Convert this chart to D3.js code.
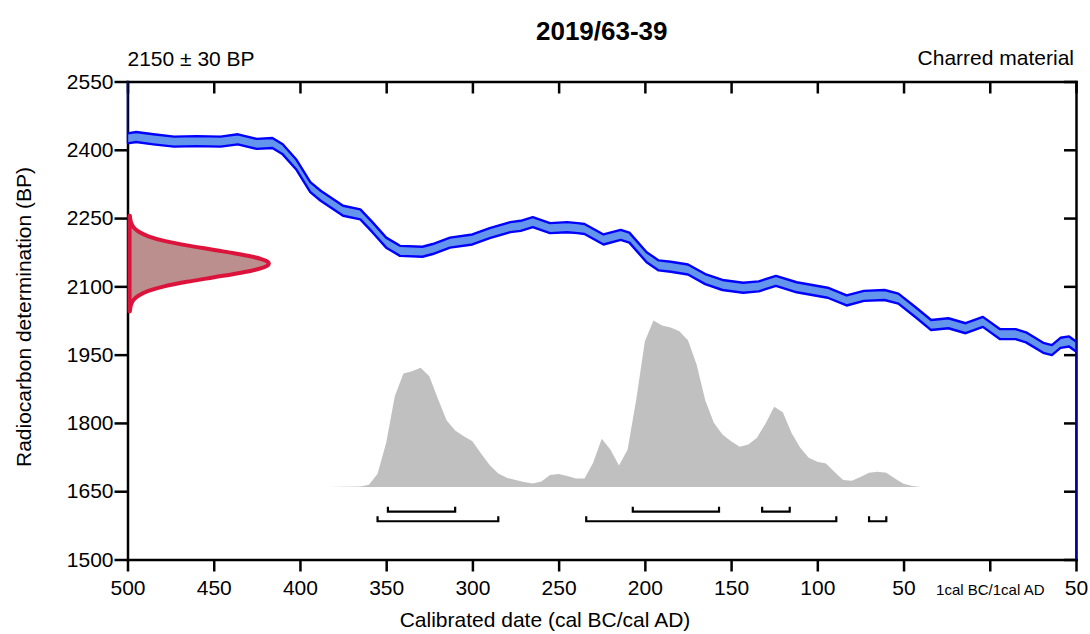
<!DOCTYPE html>
<html>
<head>
<meta charset="utf-8">
<script src="https://cdn.jsdelivr.net/npm/d3@7"></script>
<style>
  body { margin: 0; background: #fff; }
  text { font-family: "Liberation Sans", Arial, sans-serif; }
</style>
</head>
<body>
<div id="root"></div>
<script>
// chart data (years: negative = BC)
var xTicks = [-500, -450, -400, -350, -300, -250, -200, -150, -100, -50, 0, 50]
var yTicks = [1500, 1650, 1800, 1950, 2100, 2250, 2400, 2550]

// calibration curve, mean and 1 sigma
var curveYears = [-500, -495, -485, -473, -460, -446, -436, -425, -416, -410,
  -402, -394, -388, -375, -365, -358, -350, -342, -329, -323,
  -313, -300, -290, -278, -272, -265, -255, -245, -239, -235,
  -224, -214, -209, -199, -192, -185, -175, -165, -155, -143,
  -134, -124, -112, -94, -83, -73, -61, -53, -43, -34,
  -24, -14, -4, 6, 15, 21, 31, 36, 41, 46, 50]
var curveBP = [2425, 2428, 2423, 2418, 2419, 2418, 2423, 2413, 2415, 2401,
  2367, 2318, 2299, 2266, 2258, 2230, 2196, 2178, 2176, 2182,
  2196, 2203, 2217, 2230, 2233, 2241, 2228, 2230, 2228, 2226,
  2203, 2213, 2207, 2164, 2146, 2143, 2137, 2116, 2103, 2097,
  2100, 2112, 2098, 2086, 2069, 2079, 2081, 2073, 2043, 2015,
  2019, 2008, 2022, 1995, 1995, 1988, 1965, 1960, 1976, 1979, 1968]
var curveSigma = 11

// radiocarbon measurement 2150 +/- 30 BP
var measBP = [2255, 2250, 2240, 2230, 2220, 2210, 2200, 2190, 2180, 2170, 2165, 2160, 2155, 2150,
  2145, 2140, 2135, 2130, 2120, 2110, 2100, 2090, 2080, 2070, 2060, 2050, 2045]
var measDens = [0.002, 0.004, 0.011, 0.028, 0.066, 0.135, 0.249, 0.411, 0.607, 0.801, 0.882, 0.946, 0.986, 1,
  0.986, 0.946, 0.882, 0.801, 0.607, 0.411, 0.249, 0.135, 0.066, 0.028, 0.011, 0.004, 0.002]

// calibrated probability distribution
var probYears = [-385, -365, -360, -355, -350, -345, -340, -335, -330, -325,
  -320, -315, -310, -305, -300, -295, -290, -285, -280, -275,
  -270, -265, -260, -255, -250, -245, -240, -235, -230, -225,
  -220, -215, -210, -205, -200, -195, -190, -185, -180, -175,
  -170, -165, -160, -155, -150, -145, -140, -135, -130, -125,
  -120, -115, -110, -105, -100, -95, -90, -85, -80, -75,
  -70, -65, -60, -55, -50, -45, -40]
var probValues = [0, 0.003, 0.014, 0.080, 0.266, 0.546, 0.682, 0.696, 0.716, 0.666,
  0.530, 0.402, 0.340, 0.306, 0.276, 0.202, 0.132, 0.082, 0.056, 0.042,
  0.030, 0.022, 0.034, 0.072, 0.078, 0.066, 0.052, 0.052, 0.146, 0.290,
  0.226, 0.130, 0.226, 0.526, 0.876, 1.000, 0.970, 0.958, 0.936, 0.882,
  0.736, 0.522, 0.386, 0.316, 0.276, 0.242, 0.256, 0.296, 0.382, 0.482,
  0.450, 0.326, 0.238, 0.176, 0.152, 0.142, 0.090, 0.042, 0.038, 0.060,
  0.086, 0.092, 0.086, 0.052, 0.020, 0.006, 0]

// highest probability ranges
var range68 = [[-349, -310], [-207, -157], [-132, -116]]
var range95 = [[-355, -285], [-234, -89], [-70, -60]]

var width = 1090
var height = 634

var svg = d3.select("#root")
            .append("svg")
            .attr("width", width)
            .attr("height", height)

var x = d3.scaleLinear().domain([-500, 50]).range([127.5, 1076])
var y = d3.scaleLinear().domain([1500, 2550]).range([559.5, 81.5])

// probability -> BP position, and density -> calendar position
var probToBP = d3.scaleLinear().domain([0, 1]).range([1659, 2025])
var densToYear = d3.scaleLinear().domain([0, 1]).range([-498.8, -418])

function styleAxis(g) {
  g.select(".domain").attr("stroke", "#000").attr("stroke-width", 2.5).attr("stroke-linecap", "square")
  g.selectAll(".tick line").attr("stroke", "#000").attr("stroke-width", 2.5)
  g.selectAll("text").attr("fill", "#000").attr("font-size", 21)
}

// axes
var xAxis = svg.append("g")
    .attr("transform", "translate(0," + y(1500) + ")")
    .call(d3.axisBottom(x).tickValues(xTicks).tickSize(12).tickSizeOuter(0)
      .tickFormat(function(d){ return d === 0 ? "1cal BC/1cal AD" : Math.abs(d) }))
styleAxis(xAxis)
xAxis.selectAll("text").attr("dy", null).attr("y", 35)
xAxis.selectAll("text").filter(function(d){ return d === 0 }).attr("font-size", 15)

var yAxis = svg.append("g")
    .attr("transform", "translate(" + x(-500) + ",0)")
    .call(d3.axisLeft(y).tickValues(yTicks).tickSize(13).tickPadding(1).tickSizeOuter(0)
      .tickFormat(d3.format("d")))
styleAxis(yAxis)

var topAxis = svg.append("g")
    .attr("transform", "translate(0," + y(2550) + ")")
    .call(d3.axisTop(x).tickValues(xTicks).tickSize(-12).tickSizeOuter(0).tickFormat(""))
styleAxis(topAxis)

var rightAxis = svg.append("g")
    .attr("transform", "translate(" + x(50) + ",0)")
    .call(d3.axisRight(y).tickValues(yTicks).tickSize(-12).tickSizeOuter(0).tickFormat(""))
styleAxis(rightAxis)

// calibrated distribution
var probData = probYears.map(function(d, i){ return {year: d, p: probValues[i]} })
svg.append("path")
    .datum(probData)
    .attr("fill", "#c0c0c0")
    .attr("d", d3.area()
      .x(function(d){ return x(d.year) })
      .y0(y(probToBP(0)))
      .y1(function(d){ return y(probToBP(d.p)) }))

// calibration curve band
var curveData = curveYears.map(function(d, i){ return {year: d, bp: curveBP[i]} })
svg.append("path")
    .datum(curveData)
    .attr("fill", "#6495ed")
    .attr("d", d3.area()
      .x(function(d){ return x(d.year) })
      .y0(function(d){ return y(d.bp - curveSigma) })
      .y1(function(d){ return y(d.bp + curveSigma) }))

svg.selectAll("edge")
    .data([curveSigma, -curveSigma])
    .enter()
    .append("path")
      .datum(function(s){ return curveData.map(function(d){ return {year: d.year, bp: d.bp + s} }) })
      .attr("fill", "none")
      .attr("stroke", "#0000ff")
      .attr("stroke-width", 2.4)
      .attr("stroke-linejoin", "round")
      .attr("d", d3.line()
        .x(function(d){ return x(d.year) })
        .y(function(d){ return y(d.bp) }))

// curve running off the plot edges
svg.append("line")
    .attr("x1", x(-500)).attr("x2", x(-500))
    .attr("y1", y(2550)).attr("y2", y(curveBP[0] - curveSigma))
    .attr("stroke", "#0000cc").attr("stroke-width", 1.5)
svg.append("line")
    .attr("x1", x(50)).attr("x2", x(50))
    .attr("y1", y(curveBP[curveBP.length - 1] + curveSigma)).attr("y2", y(1500))
    .attr("stroke", "#0000cc").attr("stroke-width", 1.5)

// radiocarbon determination
var measData = measBP.map(function(d, i){ return {bp: d, dens: measDens[i]} })
svg.append("path")
    .datum(measData)
    .attr("fill", "#bc8f8f")
    .attr("stroke", "#dc143c")
    .attr("stroke-width", 4)
    .attr("stroke-linejoin", "round")
    .attr("d", d3.area()
      .curve(d3.curveMonotoneY)
      .y(function(d){ return y(d.bp) })
      .x0(x(densToYear(0)))
      .x1(function(d){ return x(densToYear(d.dens)) }))

// range brackets
var rowY = [y(1605), y(1584)]
svg.selectAll("r68")
    .data(range68)
    .enter()
    .append("path")
      .attr("fill", "none")
      .attr("stroke", "#000")
      .attr("stroke-width", 2.2)
      .attr("d", function(d){
        return "M" + x(d[0]) + "," + (rowY[0] - 5) + "V" + rowY[0] + "H" + x(d[1]) + "V" + (rowY[0] - 5) })
svg.selectAll("r95")
    .data(range95)
    .enter()
    .append("path")
      .attr("fill", "none")
      .attr("stroke", "#000")
      .attr("stroke-width", 2.2)
      .attr("d", function(d){
        return "M" + x(d[0]) + "," + (rowY[1] - 5) + "V" + rowY[1] + "H" + x(d[1]) + "V" + (rowY[1] - 5) })

// titles and labels
svg.append("text")
    .attr("x", (x(-500) + x(50)) / 2)
    .attr("y", 40)
    .attr("text-anchor", "middle")
    .attr("font-size", 26)
    .attr("font-weight", "bold")
    .text("2019/63-39")

svg.append("text")
    .attr("x", x(-500))
    .attr("y", 66)
    .attr("font-size", 21)
    .text("2150 \u00b1 30 BP")

svg.append("text")
    .attr("x", x(50) - 2)
    .attr("y", 65)
    .attr("text-anchor", "end")
    .attr("font-size", 21)
    .text("Charred material")

svg.append("text")
    .attr("x", 545)
    .attr("y", 627)
    .attr("text-anchor", "middle")
    .attr("font-size", 21)
    .text("Calibrated date (cal BC/cal AD)")

svg.append("text")
    .attr("transform", "translate(31,317) rotate(-90)")
    .attr("text-anchor", "middle")
    .attr("font-size", 21)
    .text("Radiocarbon determination (BP)")
</script>
</body>
</html>
